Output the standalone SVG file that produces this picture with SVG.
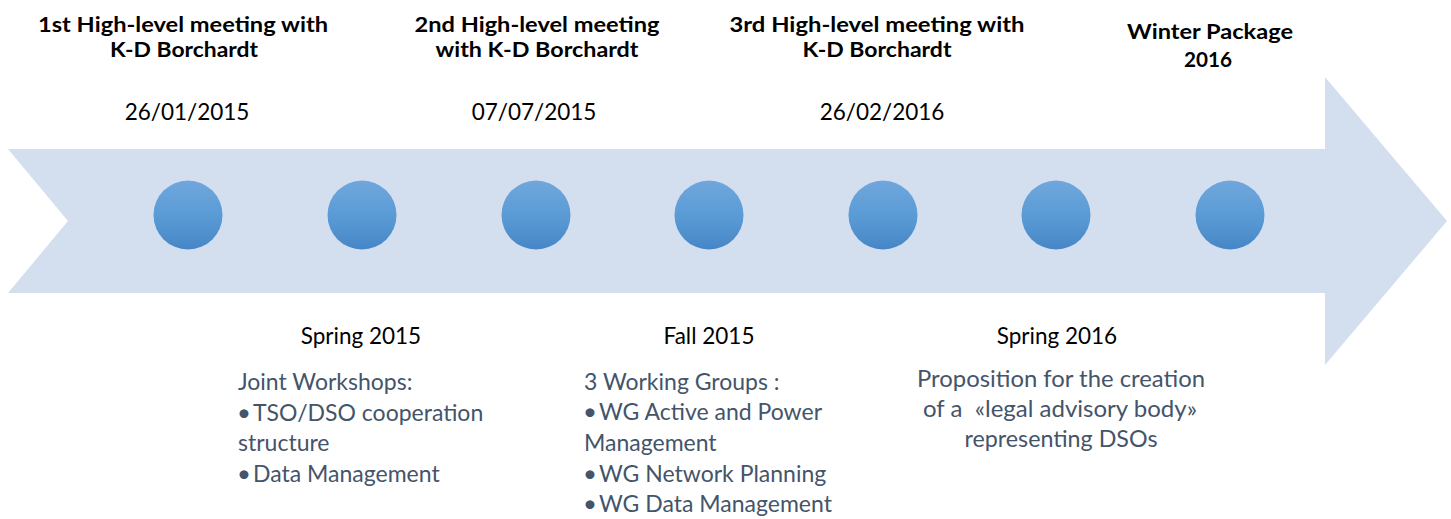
<svg xmlns="http://www.w3.org/2000/svg" width="1451" height="519" viewBox="0 0 1451 519">
  <style>
    .title { font-family: Lato, "Open Sans", sans-serif; font-weight: 700; font-size: 21.5px; fill: #000000; text-anchor: middle; }
    .date { font-family: Lato, "Open Sans", sans-serif; font-size: 22.5px; fill: #000000; text-anchor: middle; }
    .body { font-family: Lato, "Open Sans", sans-serif; font-size: 23px; fill: #44546a; }
    .bullet { font-size: 24px; }
    .center { text-anchor: middle; }
    .dot { fill: url(#dotFill); }
  </style>
  <defs>
    <linearGradient id="dotFill" x1="0" y1="0" x2="0" y2="1">
      <stop offset="0" stop-color="#70a7dd"/>
      <stop offset="0.5" stop-color="#5b9bd5"/>
      <stop offset="1" stop-color="#4686c7"/>
    </linearGradient>
  </defs>

  <!-- notched timeline arrow -->
  <g id="timeline">
    <polygon points="8,149 1325,149 1325,77 1447,221 1325,365 1325,293 8,293 68,221" fill="#d3deef"/>
  </g>

  <!-- milestone 1 -->
  <g id="meeting-1">
    <text class="title" x="183" y="32" textLength="290" lengthAdjust="spacingAndGlyphs">1st High-level meeting with</text>
    <text class="title" x="184" y="57" textLength="148" lengthAdjust="spacingAndGlyphs">K-D Borchardt</text>
    <text class="date" x="187" y="120">26/01/2015</text>
    <circle class="dot" cx="188" cy="215" r="34.5"/>
  </g>

  <!-- milestone 2 -->
  <g id="spring-2015">
    <circle class="dot" cx="362" cy="215" r="34.5"/>
    <text class="date" x="361" y="344">Spring 2015</text>
    <text class="body" x="238" y="390">Joint Workshops:</text>
    <text class="body" y="421"><tspan class="bullet" x="237">•</tspan><tspan x="253">TSO/DSO cooperation</tspan></text>
    <text class="body" x="238" y="451">structure</text>
    <text class="body" y="482"><tspan class="bullet" x="237">•</tspan><tspan x="253">Data Management</tspan></text>
  </g>

  <!-- milestone 3 -->
  <g id="meeting-2">
    <text class="title" x="537" y="32" textLength="245" lengthAdjust="spacingAndGlyphs">2nd High-level meeting</text>
    <text class="title" x="537" y="57" textLength="203" lengthAdjust="spacingAndGlyphs">with K-D Borchardt</text>
    <text class="date" x="534" y="120">07/07/2015</text>
    <circle class="dot" cx="536" cy="215" r="34.5"/>
  </g>

  <!-- milestone 4 -->
  <g id="fall-2015">
    <circle class="dot" cx="709" cy="215" r="34.5"/>
    <text class="date" x="709" y="344">Fall 2015</text>
    <text class="body" x="584" y="390">3 Working Groups :</text>
    <text class="body" y="420"><tspan class="bullet" x="583">•</tspan><tspan x="599">WG Active and Power</tspan></text>
    <text class="body" x="584" y="451">Management</text>
    <text class="body" y="482"><tspan class="bullet" x="583">•</tspan><tspan x="599">WG Network Planning</tspan></text>
    <text class="body" y="512"><tspan class="bullet" x="583">•</tspan><tspan x="599">WG Data Management</tspan></text>
  </g>

  <!-- milestone 5 -->
  <g id="meeting-3">
    <text class="title" x="877" y="32" textLength="295" lengthAdjust="spacingAndGlyphs">3rd High-level meeting with</text>
    <text class="title" x="877" y="57" textLength="149" lengthAdjust="spacingAndGlyphs">K-D Borchardt</text>
    <text class="date" x="882" y="120">26/02/2016</text>
    <circle class="dot" cx="883" cy="215" r="34.5"/>
  </g>

  <!-- milestone 6 -->
  <g id="spring-2016">
    <circle class="dot" cx="1056" cy="215" r="34.5"/>
    <text class="date" x="1057" y="344">Spring 2016</text>
    <text class="body center" x="1061" y="387" textLength="288" lengthAdjust="spacingAndGlyphs">Proposition for the creation</text>
    <text class="body center" x="1060" y="417" xml:space="preserve" textLength="274" lengthAdjust="spacingAndGlyphs">of a  «legal advisory body»</text>
    <text class="body center" x="1061" y="447" textLength="193" lengthAdjust="spacingAndGlyphs">representing DSOs</text>
  </g>

  <!-- milestone 7 -->
  <g id="winter-package">
    <text class="title" x="1210" y="39" textLength="166" lengthAdjust="spacingAndGlyphs">Winter Package</text>
    <text class="title" x="1208" y="67" textLength="48" lengthAdjust="spacingAndGlyphs">2016</text>
    <circle class="dot" cx="1230" cy="215" r="34.5"/>
  </g>
</svg>
